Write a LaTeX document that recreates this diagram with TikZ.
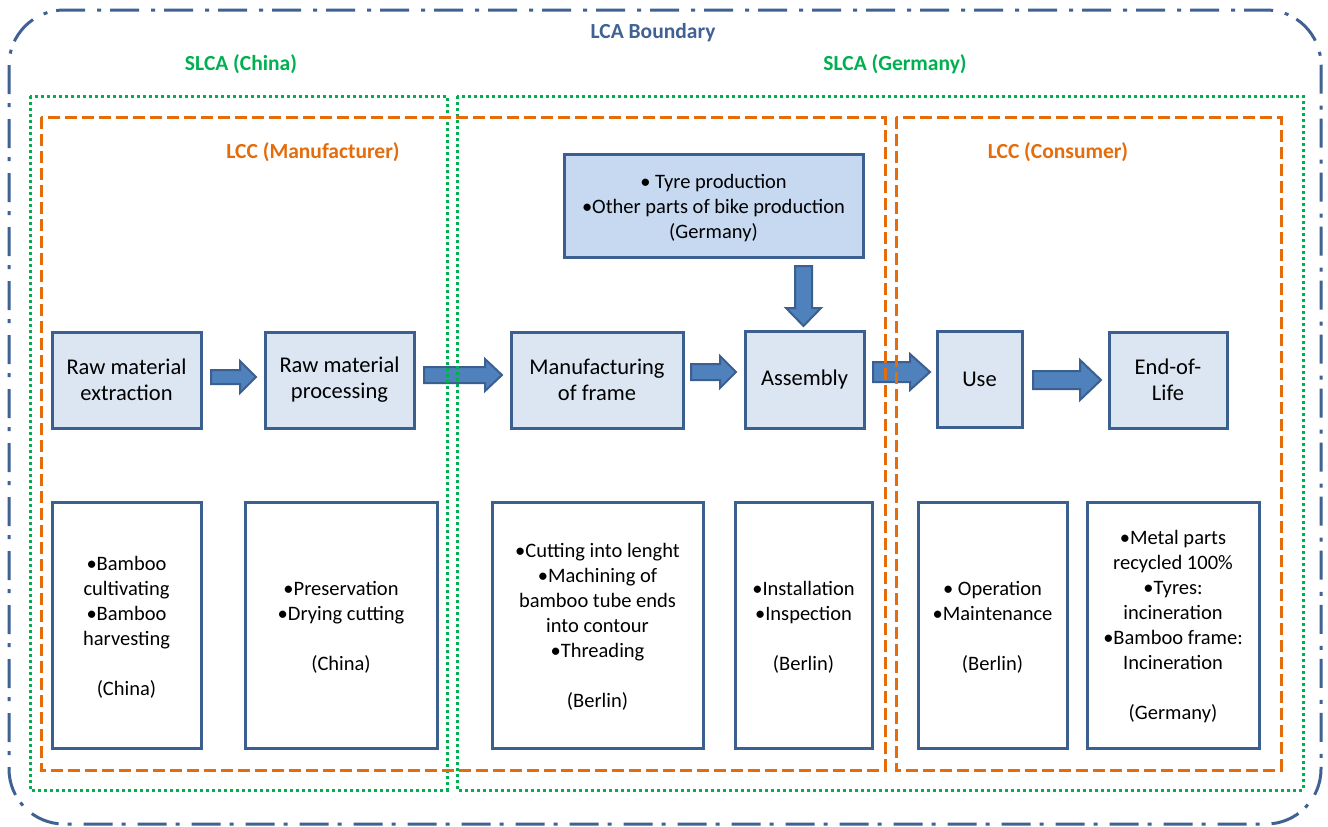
\documentclass[tikz,border=0pt]{standalone}
\usepackage{fontspec}
\setmainfont{Carlito}
\definecolor{bord}{HTML}{3B5F8F}
\definecolor{lightfill}{HTML}{DCE6F2}
\definecolor{tyrefill}{HTML}{C6D9F1}
\definecolor{arrfill}{HTML}{4F81BD}
\definecolor{slcagreen}{HTML}{00B050}
\definecolor{lccorange}{HTML}{E46C0A}
\definecolor{lcablue}{HTML}{3F6193}
\newcommand{\bodyfont}{\fontsize{20.5}{25}\selectfont}
\newcommand{\procfont}{\fontsize{22.5}{26}\selectfont}
\newcommand{\titlefont}{\fontsize{21.5}{26}\selectfont\bfseries}
% right-pointing block arrow: x start, x tip, y centre, shaft half, head half, head length
\newcommand{\rblockarrow}[6]{%
  \filldraw[blockarrow] (#1,#3-#4) -- (#2-#6,#3-#4) -- (#2-#6,#3-#5) -- (#2,#3)
    -- (#2-#6,#3+#5) -- (#2-#6,#3+#4) -- (#1,#3+#4) -- cycle;}
% down-pointing block arrow: x centre, y start, y tip, shaft half, head half, head length
\newcommand{\dblockarrow}[6]{%
  \filldraw[blockarrow] (#1-#4,#2) -- (#1-#4,#3-#6) -- (#1-#5,#3-#6) -- (#1,#3)
    -- (#1+#5,#3-#6) -- (#1+#4,#3-#6) -- (#1+#4,#2) -- cycle;}
\tikzset{
  procbox/.style={draw=bord, line width=3pt, fill=lightfill, inner sep=0pt,
    align=center, font=\procfont, text=black},
  infobox/.style={draw=bord, line width=3pt, fill=white, inner sep=0pt},
  bodytext/.style={align=center, font=\bodyfont, text=black, inner sep=0pt},
  blockarrow/.style={draw=bord, fill=arrfill, line width=2pt, line join=miter},
  lcaframe/.style={draw=lcablue, line width=3pt,
    dash pattern=on 29pt off 9pt on 4pt off 12pt, rounded corners=55pt},
  slcaframe/.style={draw=slcagreen, line width=3pt, dash pattern=on 3pt off 3pt},
  lccframe/.style={draw=lccorange, line width=3pt, dash pattern=on 12pt off 5pt},
  lcatitle/.style={font=\titlefont, text=lcablue, inner sep=0pt},
  slcatitle/.style={font=\titlefont, text=slcagreen, inner sep=0pt},
  lcctitle/.style={font=\titlefont, text=lccorange, inner sep=0pt},
}
\begin{document}
\begin{tikzpicture}[x=1pt, y=-1pt]
\useasboundingbox (0,0) rectangle (1328,827);

% process boxes
\node[procbox, minimum width=149pt, minimum height=96pt] (ext) at (126.5,380) {Raw material\\extraction};
\node[procbox, minimum width=149pt, minimum height=96pt] (proc) at (339.5,380) {Raw material\\processing};
\node[procbox, minimum width=172pt, minimum height=96pt] (manu) at (597,380) {Manufacturing\\of frame};
\node[procbox, minimum width=119pt, minimum height=97pt] (asm) at (804.5,379.5) {Assembly};
\node[procbox, minimum width=85pt, minimum height=96pt] (use) at (979.5,379) {Use};
\node[procbox, minimum width=118pt, minimum height=96pt] (eol) at (1168,380) {End-of-\\Life};
\node[procbox, fill=tyrefill, minimum width=299pt, minimum height=103pt] (tyre) at (713.5,205.5) {};
\node[bodytext] (tyret) at ([yshift=-3pt]tyre.center)
  {• Tyre production\\•Other parts of bike production\\(Germany)};

% info boxes
\node[infobox, minimum width=149pt, minimum height=246pt] (i1) at (126.5,625) {};
\node[infobox, minimum width=192pt, minimum height=246pt] (i2) at (341,625) {};
\node[infobox, minimum width=211pt, minimum height=246pt] (i3) at (597.5,625) {};
\node[infobox, minimum width=137pt, minimum height=246pt] (i4) at (803.5,625) {};
\node[infobox, minimum width=149pt, minimum height=246pt] (i5) at (992.5,625) {};
\node[infobox, minimum width=172pt, minimum height=246pt] (i6) at (1173,625) {};
\node[bodytext] (i1t) at ([yshift=-2pt]i1.center)
  {•Bamboo\\cultivating\\•Bamboo\\harvesting\\[25pt](China)};
\node[bodytext] (i2t) at ([yshift=-2pt]i2.center)
  {•Preservation\\•Drying cutting\\[25pt](China)};
\node[bodytext] (i3t) at ([yshift=-2pt]i3.center)
  {•Cutting into lenght\\•Machining of\\bamboo tube ends\\into contour\\•Threading\\[25pt](Berlin)};
\node[bodytext] (i4t) at ([yshift=-2pt]i4.center)
  {•Installation\\•Inspection\\[25pt](Berlin)};
\node[bodytext] (i5t) at ([yshift=-2pt]i5.center)
  {• Operation\\•Maintenance\\[25pt](Berlin)};
\node[bodytext] (i6t) at ([yshift=-2pt]i6.center)
  {•Metal parts\\recycled 100\%\\•Tyres:\\incineration\\•Bamboo frame:\\Incineration\\[25pt](Germany)};

% block arrows
\rblockarrow{211}{256}{377}{7}{16}{16}
\rblockarrow{424}{502}{375}{8}{16}{17}
\rblockarrow{691}{736}{372}{8}{16}{16}
\rblockarrow{873}{930}{372}{10}{18}{20}
\rblockarrow{1033}{1101}{380}{9}{20}{21}
\dblockarrow{803.5}{266}{326}{8.5}{17.5}{18}

% frames
\draw[lcaframe] (9,10) rectangle (1321,824);
\draw[slcaframe] (30,96) rectangle (447,790);
\draw[slcaframe] (457,96) rectangle (1303,790);
\draw[lccframe] (41,117) rectangle (885,770);
\draw[lccframe] (896,117) rectangle (1281,770);

% titles
\node[lcatitle] (tlca) at (653,33) {LCA Boundary};
\node[slcatitle] (tslcac) at (241,64) {SLCA (China)};
\node[slcatitle] (tslcag) at (895,64) {SLCA (Germany)};
\node[lcctitle] (tlccm) at (313,152) {LCC (Manufacturer)};
\node[lcctitle] (tlccc) at (1058,152) {LCC (Consumer)};
\end{tikzpicture}
\end{document}
